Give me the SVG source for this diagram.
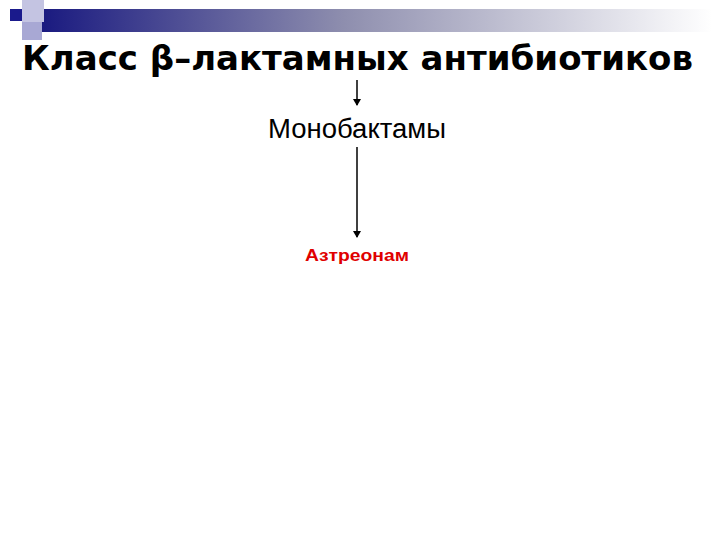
<svg xmlns="http://www.w3.org/2000/svg" width="720" height="540" viewBox="0 0 720 540">
<defs>
<linearGradient id="bar" x1="0" y1="0" x2="1" y2="0">
<stop offset="0" stop-color="#1a1a80"/>
<stop offset="0.45" stop-color="#8e8eae"/>
<stop offset="1" stop-color="#ffffff"/>
</linearGradient>
<marker id="ah" markerWidth="8" markerHeight="10" refX="6" refY="4" orient="auto" markerUnits="userSpaceOnUse">
<path d="M0,0 L7,4 L0,8 Z" fill="#000"/>
</marker>
<style>
.c{stroke:#000;stroke-width:1.5;fill:none;marker-end:url(#ah)}
.t{font-family:"Liberation Sans",Arial,sans-serif;text-anchor:middle}
</style>
</defs>
<rect width="720" height="540" fill="#fff"/>
<g id="header">
<rect x="42" y="9" width="670" height="23" fill="url(#bar)"/>
<rect x="22" y="0" width="22" height="22" fill="#c4c4e2"/>
<rect x="10" y="9" width="12" height="12" fill="#1a1a8c"/>
<rect x="22" y="22" width="20" height="18" fill="#a8a8d4"/>
</g>
<g id="title">
<text x="357.5" y="70" font-family="'DejaVu Sans',Verdana,sans-serif" text-anchor="middle" font-size="33" font-weight="bold" textLength="671" lengthAdjust="spacingAndGlyphs">Класс β–лактамных антибиотиков</text>
</g>
<g id="connectors">
<line class="c" x1="357" y1="80" x2="357" y2="105"/>
<line class="c" x1="357" y1="147" x2="357" y2="237"/>
</g>
<g id="monobactams">
<text class="t" x="357" y="138" font-size="27" textLength="178" lengthAdjust="spacingAndGlyphs">Монобактамы</text>
</g>
<g id="aztreonam">
<text class="t" x="357" y="261" font-size="17" font-weight="bold" fill="#e00000" textLength="104" lengthAdjust="spacingAndGlyphs">Азтреонам</text>
</g>
</svg>
